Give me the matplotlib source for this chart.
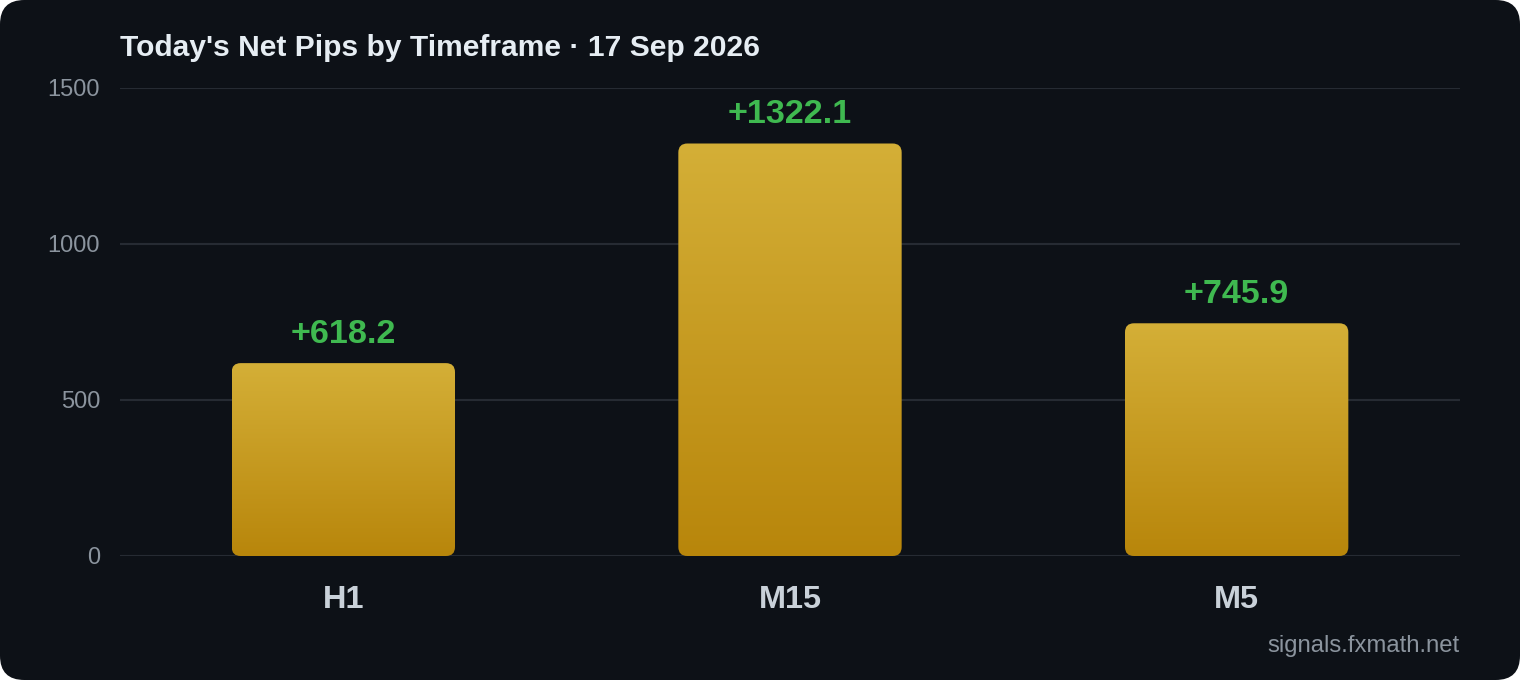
import numpy as np
import matplotlib
matplotlib.use("Agg")
import matplotlib.pyplot as plt
from matplotlib.patches import FancyBboxPatch
from matplotlib.colors import LinearSegmentedColormap

categories = ["H1", "M15", "M5"]
values = [618.2, 1322.1, 745.9]
yticks = [0, 500, 1000, 1500]
title = "Today's Net Pips by Timeframe \u00b7 17 Sep 2026"
watermark = "signals.fxmath.net"

BG = "#0d1117"
W, H, DPI = 1520, 680, 100
plt.rcParams['font.family'] = ['Liberation Sans', 'DejaVu Sans']

fig = plt.figure(figsize=(W / DPI, H / DPI), dpi=DPI)
fig.patch.set_facecolor("white")
bgpatch = FancyBboxPatch((0, 0), 1, 1, boxstyle="round,pad=0,rounding_size=0.016",
                         mutation_aspect=W / H, transform=fig.transFigure,
                         facecolor=BG, edgecolor="none", zorder=-10)
fig.patches.append(bgpatch)

ax = fig.add_axes([120 / W, 124 / H, 1340 / W, 468 / H])
ax.set_facecolor(BG)
ax.patch.set_alpha(0)
ax.set_xlim(-0.5, len(categories) - 0.5)
ax.set_ylim(0, 1500)
for s in ax.spines.values():
    s.set_visible(False)
ax.set_yticks(yticks)
ax.set_yticklabels([str(t) for t in yticks], va="center_baseline")
ax.grid(axis="y", color="#262b33", linewidth=1.5, zorder=0)
ax.set_axisbelow(True)
ax.tick_params(axis="y", length=0, pad=14.4, labelsize=17, labelcolor="#8b949e")
ax.tick_params(axis="x", length=0, pad=21, labelsize=23.4, labelcolor="#c9d1d9")

bars = ax.bar(range(len(categories)), values, width=0.5, color="none")
ax.set_xticks(range(len(categories)))
ax.set_xticklabels(categories, fontweight="bold")

# pixels per data unit
px_x = (1340) / (len(categories))
px_y = 468 / 1500
r_px = 9
r_x = r_px / px_x
aspect = (r_px / px_y) / r_x

cmap = LinearSegmentedColormap.from_list("gold", ["#b8860b", "#d4af37"])
grad = np.linspace(0, 1, 256).reshape(-1, 1)
for b, v in zip(bars, values):
    x0, w, h = b.get_x(), b.get_width(), b.get_height()
    b.remove()
    p = FancyBboxPatch((x0, 0), w, h, boxstyle=f"round,pad=0,rounding_size={r_x}",
                       mutation_aspect=aspect, facecolor="none", edgecolor="none", zorder=2)
    ax.add_patch(p)
    im = ax.imshow(grad, cmap=cmap, origin="lower", extent=(x0, x0 + w, 0, h),
                   aspect="auto", zorder=2, interpolation="bilinear")
    im.set_clip_path(p)
    ax.annotate(f"+{v:.1f}", (x0 + w / 2, h), xytext=(0, 9.5), textcoords="offset points",
                ha="center", va="bottom", fontsize=24.6, fontweight="bold", color="#3fb950")
ax.set_xlim(-0.5, len(categories) - 0.5)
ax.set_ylim(0, 1500)

fig.text(120 / W, 1 - 48 / H, title, ha="left", va="center", fontsize=21.6,
         fontweight="bold", color="#e6edf3")
fig.text(1460 / W, 1 - 646 / H, watermark, ha="right", va="center", fontsize=17.2,
         color="#8b949e")

fig.savefig("out.png", dpi=DPI, facecolor=fig.get_facecolor())
